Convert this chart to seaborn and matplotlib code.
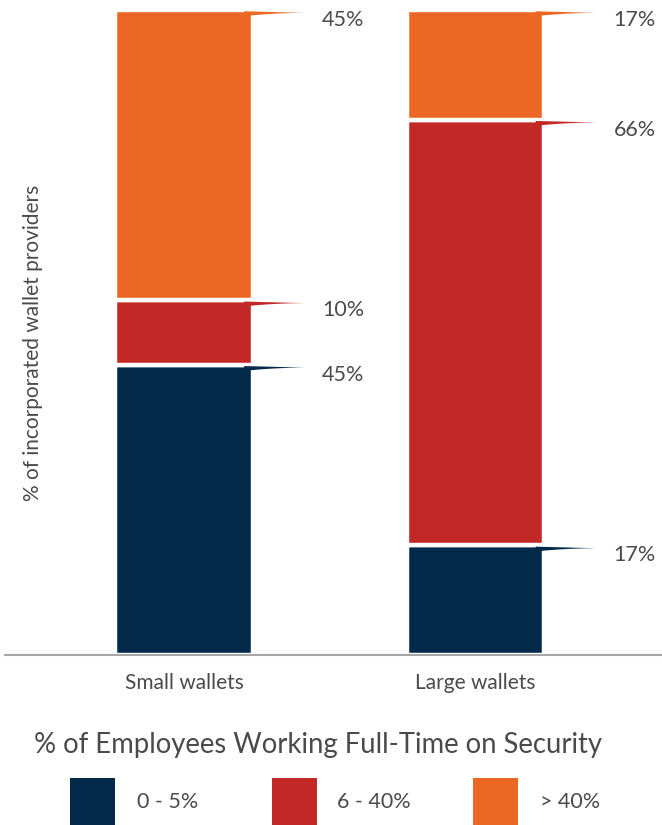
import numpy as np
import pandas as pd
import matplotlib
matplotlib.use("Agg")
import matplotlib.pyplot as plt
from matplotlib.patches import Rectangle
import seaborn as sns

categories = ["Small wallets", "Large wallets"]
series_names = ["0 - 5%", "6 - 40%", "> 40%"]
low_vals = [45, 17]
mid_vals = [10, 66]
high_vals = [45, 17]
colors = ["#03294A", "#C22826", "#EC6624"]

sns.set_theme(style="white")
plt.rcParams["font.family"] = ["Lato", "DejaVu Sans"]

W, H = 662, 825
fig = plt.figure(figsize=(W / 100, H / 100), dpi=100)
ax = fig.add_axes([5 / W, 1 - 655 / H, 657 / W, 645 / H])

series = [low_vals, mid_vals, high_vals]
bottom = np.zeros(len(categories))
bar_w = 0.472
tops = []
for vals, col, name in zip(series, colors, series_names):
    df = pd.DataFrame({"cat": categories, "val": vals})
    sns.barplot(data=df, x="cat", y="val", color=col, width=bar_w, bottom=bottom,
                edgecolor="white", linewidth=3.2, ax=ax, saturation=1, errorbar=None,
                label=name)
    bottom = bottom + np.array(vals)
    tops.append((bottom.copy(), vals, col))

# flags and labels
txt = "#4a4a4a"
L = 0.19
for tvals, vals, col in tops:
    for i, (t, v) in enumerate(zip(tvals, vals)):
        xr = i + 0.453 / 2
        s = np.linspace(0, 1, 20)
        top_edge = t - 0.25 + 0.05 * (1 - s) - 0.2 * s
        bot_edge = t - 0.95 + 0.5 * (1 - (1 - s) ** 2)
        xx = xr - 0.02 + (L + 0.02) * s
        xs = np.concatenate([xx, xx[::-1]])
        ys = np.concatenate([top_edge, bot_edge[::-1]])
        ax.fill(xs, ys, color=col, lw=0, zorder=5, clip_on=False)
        ax.text(xr + 0.247, t - 1.55, f"{v}%", ha="left", va="center",
                fontsize=15.5, color=txt, clip_on=False)

ax.set_xlim(-0.614, 1.64)
ax.set_ylim(0, 100)
ax.set_yticks([])
ax.set_xlabel("")
ax.set_ylabel("% of incorporated wallet providers", fontsize=15, color=txt)
ax.yaxis.label.set_va("center")
ax.yaxis.set_label_coords((33 - 5) / 657, (655 - 343) / 645)
ax.tick_params(axis="x", length=0, pad=13, labelsize=15, labelcolor=txt)
for side in ["top", "right", "left"]:
    ax.spines[side].set_visible(False)
ax.spines["bottom"].set_color("#A6A6A6")
ax.spines["bottom"].set_linewidth(1.5)
if ax.get_legend() is not None:
    ax.get_legend().remove()

# legend
fig.text(318 / W, 1 - 745 / H, "% of Employees Working Full-Time on Security",
         ha="center", va="center", fontsize=19.8, color=txt)
patch_x = [70, 272, 473]
label_x = [137, 337, 540]
for px, lx, col, name in zip(patch_x, label_x, colors, series_names):
    fig.add_artist(Rectangle((px / W, 1 - 826 / H), 45 / W, 48 / H,
                             transform=fig.transFigure, facecolor=col, edgecolor="none"))
    fig.text(lx / W, 1 - 802 / H, name, ha="left", va="center", fontsize=15.5, color=txt)

fig.savefig("out.png", dpi=100)
